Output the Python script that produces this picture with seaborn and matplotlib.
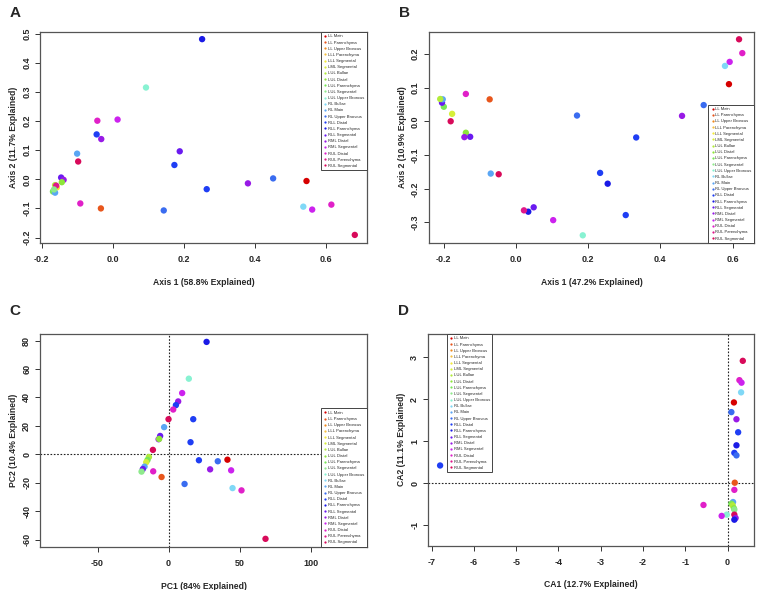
import matplotlib
matplotlib.use("Agg")
import matplotlib.pyplot as plt
from matplotlib.ticker import FormatStrFormatter
import pandas as pd
import seaborn as sns

# Sample groups in legend order
GROUPS = [
    "LL Main", "LL Parenchyma", "LL Upper Broncus", "LLL Parenchyma",
    "LLL Segmental", "LML Segmental", "LUL Bullae", "LUL Distal",
    "LUL Parenchyma", "LUL Segmental", "LUL Upper Broncus", "RL Bullae",
    "RL Main", "RL Upper Broncus", "RLL Distal", "RLL Parenchyma",
    "RLL Segmental", "RML Distal", "RML Segmental", "RUL Distal",
    "RUL Parenchyma", "RUL Segmental",
]
COLORS = [
    "#d60000", "#e8561c", "#f08a1e", "#f5c040", "#f2ea38", "#d6ef3a",
    "#b2ec3a", "#8de63a", "#78e658", "#8eea8c", "#88f2d2", "#80d8f6",
    "#5aa6f4", "#3a6cf0", "#1f3ef4", "#1a1ae6", "#6a1af0", "#981ae6",
    "#cc22ee", "#e020c8", "#e0188a", "#d80a5a",
]

# A: PCoA 1
A_x = [0.252, 0.094, -0.043, 0.014, -0.045, -0.032, -0.100, -0.097, 0.189, 0.174,
       -0.145, -0.138, -0.143, -0.162, -0.157, -0.159, -0.168, -0.162, -0.091, -0.033,
       0.144, 0.265, 0.381, 0.452, 0.546, 0.537, 0.562, 0.616, 0.682, -0.165]
A_y = [0.481, 0.315, 0.201, 0.205, 0.154, 0.138, 0.088, 0.061, 0.096, 0.049,
       0.006, -0.002, -0.010, -0.020, -0.028, -0.022, -0.042, -0.046, -0.083, -0.100,
       -0.107, -0.034, -0.014, 0.003, -0.006, -0.094, -0.104, -0.087, -0.191, -0.035]
A_group = ["RLL Parenchyma", "LUL Upper Broncus", "RUL Distal", "RML Segmental", "RLL Distal",
           "RML Distal", "RL Main", "RUL Segmental", "RLL Segmental", "RLL Distal",
           "RLL Segmental", "RML Distal", "LUL Distal", "LUL Bullae", "LLL Segmental",
           "RUL Parenchyma", "LUL Parenchyma", "RL Main", "RUL Distal", "LL Parenchyma",
           "RL Upper Broncus", "RLL Distal", "RML Distal", "RL Upper Broncus", "LL Main",
           "RL Bullae", "RML Segmental", "RUL Distal", "RUL Segmental", "LUL Segmental"]

# B: PCoA 2
B_x = [0.618, 0.627, 0.592, 0.579, 0.590, 0.520, 0.460, 0.333, 0.169, 0.233,
       0.254, 0.304, 0.185, 0.103, 0.049, 0.034, 0.022, -0.048, -0.070, -0.073,
       -0.139, -0.139, -0.127, -0.143, -0.181, -0.177, -0.200, -0.205, -0.203, -0.210]
B_y = [0.243, 0.202, 0.176, 0.164, 0.110, 0.048, 0.016, -0.048, 0.017, -0.153,
       -0.185, -0.278, -0.338, -0.293, -0.255, -0.268, -0.264, -0.157, -0.155, 0.065,
       0.081, -0.034, -0.046, -0.047, 0.000, 0.022, 0.043, 0.055, 0.065, 0.066]
B_group = ["RUL Segmental", "RUL Distal", "RML Segmental", "RL Bullae", "LL Main",
           "RL Upper Broncus", "RML Distal", "RLL Distal", "RL Upper Broncus", "RLL Distal",
           "RLL Parenchyma", "RLL Distal", "LUL Upper Broncus", "RML Segmental", "RLL Segmental",
           "RLL Parenchyma", "RUL Parenchyma", "RUL Segmental", "RL Main", "LL Parenchyma",
           "RUL Distal", "LUL Distal", "RLL Segmental", "RML Distal", "RUL Segmental",
           "LML Segmental", "LUL Parenchyma", "RLL Segmental", "RL Main", "LUL Bullae"]

# C: PCA
C_x = [26.8, 14.3, 9.6, 6.8, 5.2, 3.3, 0.0, 17.4, -3.1, -5.9,
       -7.0, -6.6, 15.5, -11.0, -13.8, -14.8, -15.7, -16.9, -18.1, -19.0,
       -10.8, -4.9, 11.3, 21.4, 34.7, 41.5, 29.3, 44.1, 45.1, 51.4, 68.3]
C_y = [79.1, 53.2, 43.1, 37.2, 34.6, 31.5, 24.7, 24.7, 19.1, 12.9,
       10.6, 10.8, 8.5, 3.1, -1.9, -4.0, -5.6, -8.7, -10.4, -12.2,
       -12.0, -16.0, -20.9, -4.2, -4.9, -3.8, -10.6, -11.3, -23.8, -25.4, -59.5]
C_group = ["RLL Parenchyma", "LUL Upper Broncus", "RML Segmental", "RML Distal", "RLL Distal",
           "RUL Distal", "RUL Segmental", "RLL Distal", "RL Main", "RLL Segmental",
           "RML Distal", "LUL Distal", "RLL Distal", "RUL Segmental", "LUL Bullae",
           "LUL Parenchyma", "LML Segmental", "RL Main", "RLL Segmental", "LUL Segmental",
           "RUL Distal", "LL Parenchyma", "RL Upper Broncus", "RLL Distal", "RL Upper Broncus",
           "LL Main", "RML Distal", "RML Segmental", "RL Bullae", "RUL Distal", "RUL Segmental"]

# D: CA
D_x = [-6.80, 0.36, 0.28, 0.33, 0.32, 0.15, 0.09, 0.21, 0.25, 0.21,
       0.16, 0.21, 0.17, 0.16, 0.13, 0.09, 0.12, 0.15, 0.16, 0.16,
       0.19, 0.16, -0.02, -0.14, -0.57]
D_y = [0.42, 2.91, 2.45, 2.39, 2.16, 1.92, 1.69, 1.52, 1.21, 0.90,
       0.72, 0.66, 0.01, -0.16, -0.45, -0.49, -0.53, -0.60, -0.63, -0.75,
       -0.83, -0.87, -0.75, -0.78, -0.52]
D_group = ["RLL Distal", "RUL Segmental", "RUL Distal", "RML Segmental", "RL Bullae",
           "LL Main", "RL Upper Broncus", "RML Distal", "RLL Distal", "RLL Parenchyma",
           "RLL Distal", "RL Upper Broncus", "LL Parenchyma", "RUL Distal", "RL Main",
           "LUL Parenchyma", "LUL Bullae", "LUL Distal", "LUL Segmental", "RUL Segmental",
           "RML Distal", "RLL Parenchyma", "LUL Upper Broncus", "RML Segmental", "RUL Distal"]

sns.set_style("ticks")
plt.rcParams["font.family"] = ["Liberation Sans", "DejaVu Sans"]
plt.rcParams["axes.unicode_minus"] = False

palette = dict(zip(GROUPS, COLORS))

fig = plt.figure(figsize=(7.58, 5.9), dpi=100)
axes = {
    "A": fig.add_axes([0.053, 0.588, 0.431, 0.358]),
    "B": fig.add_axes([0.566, 0.588, 0.429, 0.358]),
    "C": fig.add_axes([0.053, 0.073, 0.431, 0.361]),
    "D": fig.add_axes([0.565, 0.075, 0.430, 0.359]),
}

panels = [
    ("A", A_x, A_y, A_group, "Axis 1 (58.8% Explained)", "Axis 2 (11.7% Explained)",
     (-0.204, 0.716), (-0.219, 0.506), [-0.2, 0.0, 0.2, 0.4, 0.6],
     [-0.2, -0.1, 0.0, 0.1, 0.2, 0.3, 0.4, 0.5], "%.1f", False,
     dict(loc="upper right", bbox_to_anchor=(1, 1))),
    ("B", B_x, B_y, B_group, "Axis 1 (47.2% Explained)", "Axis 2 (10.9% Explained)",
     (-0.241, 0.66), (-0.361, 0.265), [-0.2, 0.0, 0.2, 0.4, 0.6],
     [-0.3, -0.2, -0.1, 0.0, 0.1, 0.2], "%.1f", False,
     dict(loc="lower right", bbox_to_anchor=(1, 0))),
    ("C", C_x, C_y, C_group, "PC1 (84% Explained)", "PC2 (10.4% Explained)",
     (-90.4, 139.7), (-65.2, 84.7), [-50, 0, 50, 100],
     [-60, -40, -20, 0, 20, 40, 60, 80], "%d", True,
     dict(loc="lower right", bbox_to_anchor=(1, 0))),
    ("D", D_x, D_y, D_group, "CA1 (12.7% Explained)", "CA2 (11.1% Explained)",
     (-7.08, 0.63), (-1.49, 3.55), [-7, -6, -5, -4, -3, -2, -1, 0],
     [-1, 0, 1, 2, 3], "%d", True,
     dict(loc="upper left", bbox_to_anchor=(0.056, 1))),
]

for key, xs, ys, grp, xlab, ylab, xlim, ylim, xt, yt, fmt, zero_lines, leg in panels:
    ax = axes[key]
    df = pd.DataFrame({"x": xs, "y": ys, "group": grp})
    if zero_lines:
        ax.axhline(0, color="#222222", ls=(0, (1.5, 1.5)), lw=0.8, zorder=0)
        ax.axvline(0, color="#222222", ls=(0, (1.5, 1.5)), lw=0.8, zorder=0)
    sns.scatterplot(data=df, x="x", y="y", hue="group", hue_order=GROUPS,
                    palette=palette, s=21, linewidth=0, ax=ax, legend="full")
    ax.set_xlim(*xlim)
    ax.set_ylim(*ylim)
    ax.set_xticks(xt)
    ax.set_yticks(yt)
    ax.xaxis.set_major_formatter(FormatStrFormatter(fmt))
    ax.yaxis.set_major_formatter(FormatStrFormatter(fmt))
    ax.set_xlabel(xlab, fontsize=6.2, fontweight="bold", labelpad=10)
    ax.set_ylabel(ylab, fontsize=6.2, fontweight="bold", labelpad=3)
    ax.tick_params(labelsize=6.5, length=3.5, width=0.7, color="#333333", pad=3)
    ax.tick_params(axis="x", pad=5)
    for lab in ax.get_xticklabels() + ax.get_yticklabels():
        lab.set_fontweight("bold")
    for lab in ax.get_yticklabels():
        lab.set_rotation(90)
        lab.set_va("center")
    for sp in ax.spines.values():
        sp.set_visible(True)
        sp.set_color("#555555")
        sp.set_linewidth(0.9)
    sns.move_legend(ax, title=None, fontsize=3.0, markerscale=0.35, frameon=True,
                    fancybox=False, edgecolor="#444444", framealpha=1,
                    borderaxespad=0, labelspacing=0.52, handletextpad=0.1,
                    handlelength=1.0, borderpad=0.6, **leg)
    ax.get_legend().get_frame().set_linewidth(0.7)
    fig.text(ax.get_position().x0 - 0.04, 0.99 if key in "AB" else 0.485, key,
             fontsize=11, fontweight="bold", va="top")

fig.savefig("out.png", dpi=100)
